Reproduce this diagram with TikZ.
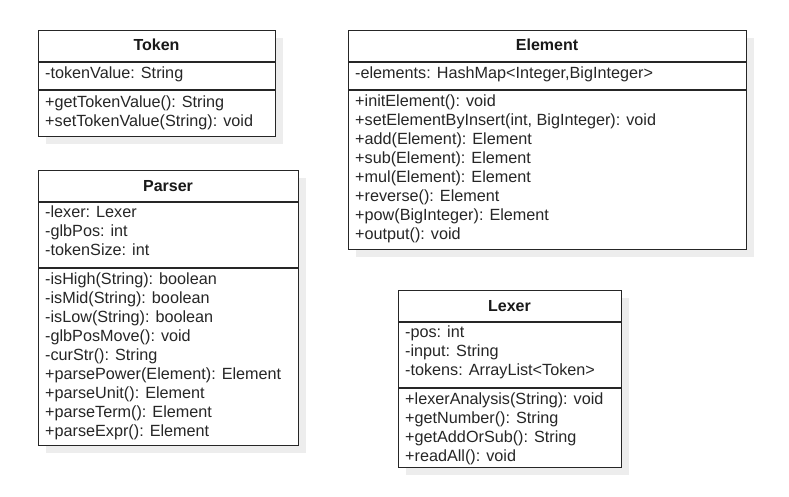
\documentclass[tikz,border=0pt]{standalone}
\usepackage{fontspec}
\setmainfont{Liberation Sans}
\begin{document}
\begin{tikzpicture}[x=1pt,y=-1pt,
  boxline/.style={line width=1.1pt, draw=black!85},
  classbox/.style={boxline, fill=white, anchor=north west, inner sep=0pt, minimum width=#1},
  shadowbox/.style={fill=black!7, draw=none},
  title/.style={font=\fontsize{16}{19}\selectfont\bfseries, text=black!90, inner sep=0pt, anchor=base},
  member/.style={font=\fontsize{16.2}{19}\selectfont, text=black!85, inner sep=0pt, anchor=base west}]
\useasboundingbox (0,0) rectangle (789,497);

% ---------- Token ----------
\fill[shadowbox] (46,38) rectangle (283,144);
\node[classbox=237pt, minimum height=106pt] (token) at (38,30) {};
\draw[boxline] (token.north west |- 0,62) coordinate (tokA) -- (token.north east |- 0,62) coordinate (tokB);
\draw[boxline] (token.north west |- 0,90) coordinate (tokC) -- (token.north east |- 0,90) coordinate (tokD);
\node[title] (tokT) at (156.5,51) {Token};
\node[member] (tok1) at (45,78.5) {-tokenValue: String};
\node[member] (tok2) at (45,107.5) {+getTokenValue(): String};
\node[member] (tok3) at (45,126.5) {+setTokenValue(String): void};

% ---------- Element ----------
\fill[shadowbox] (356,38) rectangle (754,257);
\node[classbox=398pt, minimum height=219pt] (elem) at (348,30) {};
\draw[boxline] (elem.north west |- 0,62) coordinate (elA) -- (elem.north east |- 0,62) coordinate (elB);
\draw[boxline] (elem.north west |- 0,90) coordinate (elC) -- (elem.north east |- 0,90) coordinate (elD);
\node[title] (elT) at (547,51) {Element};
\node[member] (el1) at (355,78.5) {-elements: HashMap<Integer,BigInteger>};
\node[member] (el2) at (355,106.5) {+initElement(): void};
\node[member] (el3) at (355,125.5) {+setElementByInsert(int, BigInteger): void};
\node[member] (el4) at (355,144.5) {+add(Element): Element};
\node[member] (el5) at (355,163.5) {+sub(Element): Element};
\node[member] (el6) at (355,182.5) {+mul(Element): Element};
\node[member] (el7) at (355,201.5) {+reverse(): Element};
\node[member] (el8) at (355,220.5) {+pow(BigInteger): Element};
\node[member] (el9) at (355,239.5) {+output(): void};

% ---------- Parser ----------
\fill[shadowbox] (46,178) rectangle (306,453);
\node[classbox=260pt, minimum height=275pt] (parser) at (38,170) {};
\draw[boxline] (parser.north west |- 0,202) coordinate (paA) -- (parser.north east |- 0,202) coordinate (paB);
\draw[boxline] (parser.north west |- 0,268) coordinate (paC) -- (parser.north east |- 0,268) coordinate (paD);
\node[title] (paT) at (168,191) {Parser};
\node[member] (pa1) at (45,217.5) {-lexer: Lexer};
\node[member] (pa2) at (45,236.5) {-glbPos: int};
\node[member] (pa3) at (45,255.5) {-tokenSize: int};
\node[member] (pa4) at (45,284.5) {-isHigh(String): boolean};
\node[member] (pa5) at (45,303.5) {-isMid(String): boolean};
\node[member] (pa6) at (45,322.5) {-isLow(String): boolean};
\node[member] (pa7) at (45,341.5) {-glbPosMove(): void};
\node[member] (pa8) at (45,360.5) {-curStr(): String};
\node[member] (pa9) at (45,379.5) {+parsePower(Element): Element};
\node[member] (pa10) at (45,398.5) {+parseUnit(): Element};
\node[member] (pa11) at (45,417.5) {+parseTerm(): Element};
\node[member] (pa12) at (45,436.5) {+parseExpr(): Element};

% ---------- Lexer ----------
\fill[shadowbox] (406,298) rectangle (629,475);
\node[classbox=223pt, minimum height=177pt] (lexer) at (398,290) {};
\draw[boxline] (lexer.north west |- 0,322) coordinate (leA) -- (lexer.north east |- 0,322) coordinate (leB);
\draw[boxline] (lexer.north west |- 0,388) coordinate (leC) -- (lexer.north east |- 0,388) coordinate (leD);
\node[title] (leT) at (509.5,311) {Lexer};
\node[member] (le1) at (405,337.5) {-pos: int};
\node[member] (le2) at (405,356.5) {-input: String};
\node[member] (le3) at (405,375.5) {-tokens: ArrayList<Token>};
\node[member] (le4) at (405,404.5) {+lexerAnalysis(String): void};
\node[member] (le5) at (405,423.5) {+getNumber(): String};
\node[member] (le6) at (405,442.5) {+getAddOrSub(): String};
\node[member] (le7) at (405,461.5) {+readAll(): void};
\end{tikzpicture}
\end{document}
